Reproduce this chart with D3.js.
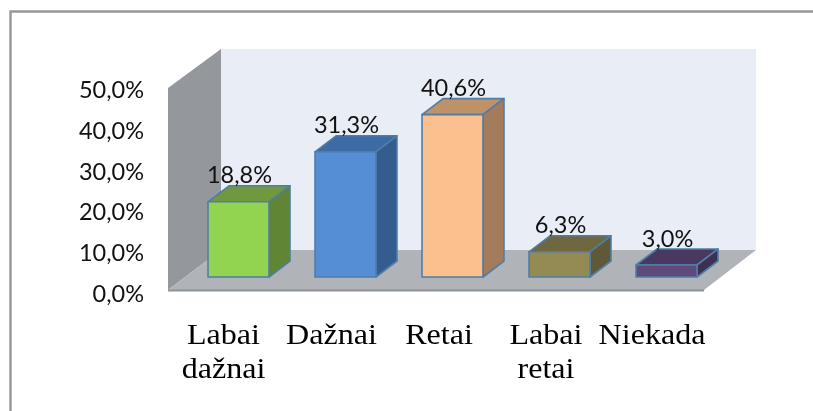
<!DOCTYPE html>
<html>
<head>
<meta charset="utf-8">
<script src="https://d3js.org/d3.v7.min.js"></script>
<style>
    html, body { margin: 0; padding: 0; background: #fff; }
    svg { display: block; filter: blur(0.4px); }  /* the original is a soft screenshot */
    .tick-label { font-family: Lato, sans-serif; font-size: 23.5px; fill: #111; }
    .value-label { font-family: Lato, sans-serif; font-size: 23.5px; fill: #111; text-anchor: middle; }
    .cat-label { font-family: "Liberation Serif", serif; font-size: 30px; fill: #000; text-anchor: middle; }
</style>
</head>
<body>
<script>
// chart data
var categories = [["Labai", "dažnai"], ["Dažnai"], ["Retai"], ["Labai", "retai"], ["Niekada"]];
var values = [18.8, 31.3, 40.6, 6.3, 3.0];
var valueLabels = ["18,8%", "31,3%", "40,6%", "6,3%", "3,0%"];
var yTicks = [0, 10, 20, 30, 40, 50];
var frontColors = ["#92d350", "#558ed5", "#fcbf8e", "#948a54", "#604a7b"];
var topColors = ["#70983f", "#3d6ba6", "#bf9169", "#6e673f", "#49385f"];
var sideColors = ["#5f8535", "#355c8f", "#a47c5b", "#5f5937", "#3e3052"];

var width = 813, height = 411;
var depthX = 21, depthY = -16;   // fake 3d offset of the bars

var svg = d3.select("body").append("svg")
    .attr("width", width)
    .attr("height", height);

// scales
var x = d3.scaleBand()
    .domain(d3.range(values.length))
    .range([185, 720])
    .paddingInner(0.43)
    .paddingOuter(0.215);

var y = d3.scaleLinear().domain([0, 50]).range([277, 77]);
var wallY = d3.scaleLinear().domain([0, 50]).range([290, 88]);  // front edge of the walls
var labelY = d3.scaleLinear().domain([0, 50]).range([294, 90]);

// outer frame
svg.append("path")
    .attr("d", "M10.5," + (height + 5) + "V11.5H" + (width + 5))
    .attr("fill", "none")
    .attr("stroke", "#979797")
    .attr("stroke-width", 2.4);

// walls and floor
var wallLeft = 168, wallBackX = 221, wallBackRight = 756, floorFrontRight = 704;
var wallBackTop = 49, wallBackBottom = 250;

svg.append("polygon")
    .attr("points", [[wallBackX, wallBackTop], [wallBackRight, wallBackTop], [wallBackRight, wallBackBottom], [wallBackX, wallBackBottom]].join(" "))
    .attr("fill", "#e8edf6");

svg.append("polygon")
    .attr("points", [[wallLeft, wallY(50)], [wallBackX, wallBackTop], [wallBackX, wallBackBottom], [wallLeft, wallY(0)]].join(" "))
    .attr("fill", "#94979b");

svg.append("polygon")
    .attr("points", [[wallLeft, wallY(0)], [wallBackX, wallBackBottom], [wallBackRight, wallBackBottom], [floorFrontRight, wallY(0)]].join(" "))
    .attr("fill", "#b0b3b8");

svg.append("line")
    .attr("x1", wallLeft).attr("x2", floorFrontRight)
    .attr("y1", wallY(0) + 0.5).attr("y2", wallY(0) + 0.5)
    .attr("stroke", "#8f9296")
    .attr("stroke-width", 2);

// y axis labels
svg.selectAll(".tick-label")
    .data(yTicks)
    .enter()
    .append("text")
    .attr("class", "tick-label")
    .attr("text-anchor", "end")
    .attr("x", 144)
    .attr("y", function(d) { return labelY(d) + 8; })
    .text(function(d) { return d.toFixed(1).replace(".", ",") + "%"; });

// bars
var bars = svg.selectAll(".bar")
    .data(values)
    .enter()
    .append("g")
    .attr("class", "bar")
    .attr("stroke", "#4f7da8")
    .attr("stroke-width", 1.6)
    .attr("stroke-linejoin", "round");

bars.append("polygon")  // top
    .attr("fill", function(d, i) { return topColors[i]; })
    .attr("points", function(d, i) {
        var l = x(i), r = l + x.bandwidth(), t = y(d);
        return [[l, t], [l + depthX, t + depthY], [r + depthX, t + depthY], [r, t]].join(" ");
    });

bars.append("polygon")  // side
    .attr("fill", function(d, i) { return sideColors[i]; })
    .attr("points", function(d, i) {
        var r = x(i) + x.bandwidth(), t = y(d), b = y(0);
        return [[r, t], [r + depthX, t + depthY], [r + depthX, b + depthY], [r, b]].join(" ");
    });

bars.append("rect")  // front
    .attr("fill", function(d, i) { return frontColors[i]; })
    .attr("x", function(d, i) { return x(i); })
    .attr("y", function(d) { return y(d); })
    .attr("width", x.bandwidth())
    .attr("height", function(d) { return y(0) - y(d); });

// value labels
svg.selectAll(".value-label")
    .data(values)
    .enter()
    .append("text")
    .attr("class", "value-label")
    .attr("x", function(d, i) { return x(i) + x.bandwidth() / 2 + 1; })
    .attr("y", function(d) { return y(d) - 18.5; })
    .text(function(d, i) { return valueLabels[i]; });

// category labels, stretched sideways like the original
var catCenters = [223.5, 331.5, 439, 546, 652];
var cats = svg.selectAll(".cat")
    .data(categories)
    .enter()
    .append("g")
    .attr("class", "cat")
    .attr("transform", function(d, i) { return "translate(" + catCenters[i] + ",0) scale(1.07,1)"; });

cats.selectAll("text")
    .data(function(d) { return d; })
    .enter()
    .append("text")
    .attr("class", "cat-label")
    .attr("y", function(d, i) { return 344 + i * 34; })
    .text(function(d) { return d; });
</script>
</body>
</html>
